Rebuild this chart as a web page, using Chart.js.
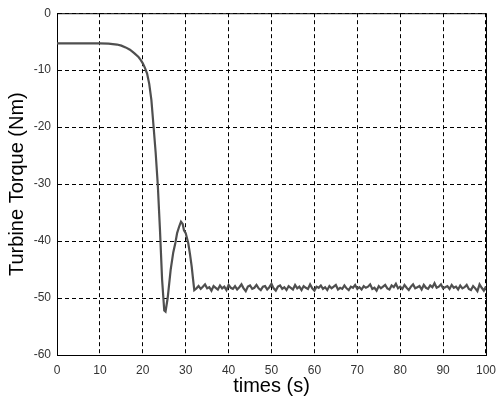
<!DOCTYPE html>
<html lang="en">
<head>
  <meta charset="UTF-8">
  <title>Turbine Torque</title>
  <script src="https://cdn.jsdelivr.net/npm/chart.js"></script>
  <style>
    html, body {
      margin: 0;
      padding: 0;
      background-color: white;
    }
    #wrap {
      width: 504px;
      height: 400px;
    }
  </style>
</head>
<body>

  <div id="wrap"><canvas id="torqueChart" width="504" height="400"></canvas></div>

  <script>
    // transient part: time (s) and torque (Nm)
    const transientTimes = [0, 5, 10, 12, 14, 15, 16, 17, 18, 19, 19.5, 20, 20.5, 21, 21.5, 22, 22.5, 23, 23.5, 24, 24.5, 25, 25.3, 25.8, 26.5, 27.1, 27.6, 28.0, 28.5, 28.9, 29.3, 29.6, 30.0, 30.6, 31.0, 31.4, 31.7];
    const transientTorque = [-5.3, -5.3, -5.3, -5.35, -5.5, -5.7, -6.0, -6.4, -7.0, -7.7, -8.2, -8.8, -9.6, -10.6, -12.4, -15.2, -19.8, -24.5, -30.2, -38.0, -46.8, -52.2, -52.4, -50.0, -45.0, -42.0, -40.3, -38.6, -37.4, -36.6, -37.0, -38.1, -38.6, -40.4, -42.3, -44.5, -46.6];

    // steady part, sampled every 0.5 s from 32 s to 100 s
    const steadyStart = 32;
    const steadyStep = 0.5;
    const steadyTorque = [
      -48.6, -48.3, -47.9, -48.4, -48.0, -47.6, -48.3, -48.1, -48.7, -47.9,
      -48.2, -48.5, -47.8, -48.3, -48.0, -48.6, -47.7, -48.2, -48.4, -47.9,
      -48.5, -48.1, -47.6, -48.3, -48.8, -48.0, -47.8, -48.4, -48.2, -47.7,
      -48.3, -48.6, -48.0, -47.9, -48.5, -48.1, -47.5, -48.3, -48.7, -48.0,
      -47.8, -48.4, -48.1, -48.6, -47.9, -48.2, -48.5, -47.7, -48.3, -48.0,
      -48.6, -47.9, -48.2, -48.4, -47.6, -48.3, -48.7, -48.0, -48.2, -47.8,
      -48.4, -48.1, -48.6, -47.9, -48.3, -48.0, -47.7, -48.5, -48.2, -48.4,
      -47.8, -48.3, -48.6, -48.0, -48.2, -47.7, -48.4, -48.1, -48.5, -47.9,
      -48.2, -48.0, -47.6, -48.4, -48.2, -48.7, -47.9, -48.3, -48.0, -47.7,
      -48.3, -48.5, -47.8, -48.1, -47.5, -48.3, -48.0, -48.4, -47.7, -48.2,
      -48.6, -48.0, -47.6, -48.3, -48.1, -47.9, -48.5, -47.7, -48.2, -48.4,
      -47.8, -48.1, -47.4, -48.2, -48.0, -47.6, -48.3, -48.1, -47.9, -48.4,
      -47.7, -48.2, -48.0, -48.5, -47.8, -48.3, -48.1, -47.7, -48.4, -48.6,
      -47.9, -48.3, -48.8, -47.6, -48.2, -48.7,
      -48.0
    ];

    const xTicks = [0, 10, 20, 30, 40, 50, 60, 70, 80, 90, 100];
    const yTicks = [-60, -50, -40, -30, -20, -10, 0];

    const points = [];
    transientTimes.forEach((t, i) => points.push({ x: t, y: transientTorque[i] }));
    steadyTorque.forEach((v, i) => points.push({ x: steadyStart + i * steadyStep, y: v }));

    // box round the plot area (top and right sides)
    const frame = {
      id: 'frame',
      beforeDatasetsDraw(chart) {
        const { ctx, chartArea: a } = chart;
        ctx.save();
        ctx.strokeStyle = '#000';
        ctx.lineWidth = 1;
        ctx.strokeRect(a.left + 0.5, a.top + 0.5, a.right - a.left, a.bottom - a.top);
        ctx.restore();
      }
    };

    const tickFont = { family: 'Liberation Sans, Arial, sans-serif', size: 12 };
    const titleFont = { family: 'Liberation Sans, Arial, sans-serif', size: 20 };

    new Chart(document.getElementById('torqueChart'), {
      type: 'line',
      data: {
        datasets: [{
          data: points,
          borderColor: '#4f4f4f',
          borderWidth: 2.2,
          pointRadius: 0,
          tension: 0,
          fill: false
        }]
      },
      options: {
        responsive: false,
        animation: false,
        layout: { padding: { left: 0, right: 15, top: 13, bottom: 0 } },
        plugins: {
          legend: { display: false },
          tooltip: { enabled: false }
        },
        scales: {
          x: {
            type: 'linear',
            min: 0,
            max: 100,
            afterBuildTicks: (s) => { s.ticks = xTicks.map(v => ({ value: v })); },
            afterFit: (s) => { s.height = 45; },
            ticks: { color: '#333', font: tickFont, padding: 8, maxRotation: 0 },
            grid: { color: '#000', lineWidth: 1, drawTicks: false },
            border: { display: true, color: '#000', width: 1, dash: [4, 3] },
            title: { display: true, text: 'times (s)', color: '#000', font: titleFont, padding: { top: 0, bottom: 2 } }
          },
          y: {
            min: -60,
            max: 0,
            afterBuildTicks: (s) => { s.ticks = yTicks.map(v => ({ value: v })); },
            afterFit: (s) => { s.width = 57; },
            ticks: { color: '#333', font: tickFont, padding: 6 },
            grid: { color: '#000', lineWidth: 1, drawTicks: false },
            border: { display: true, color: '#000', width: 1, dash: [4, 3] },
            title: { display: true, text: 'Turbine Torque (Nm)', color: '#000', font: titleFont, padding: { top: 5, bottom: 0 } }
          }
        }
      },
      plugins: [frame]
    });
  </script>

</body>
</html>
